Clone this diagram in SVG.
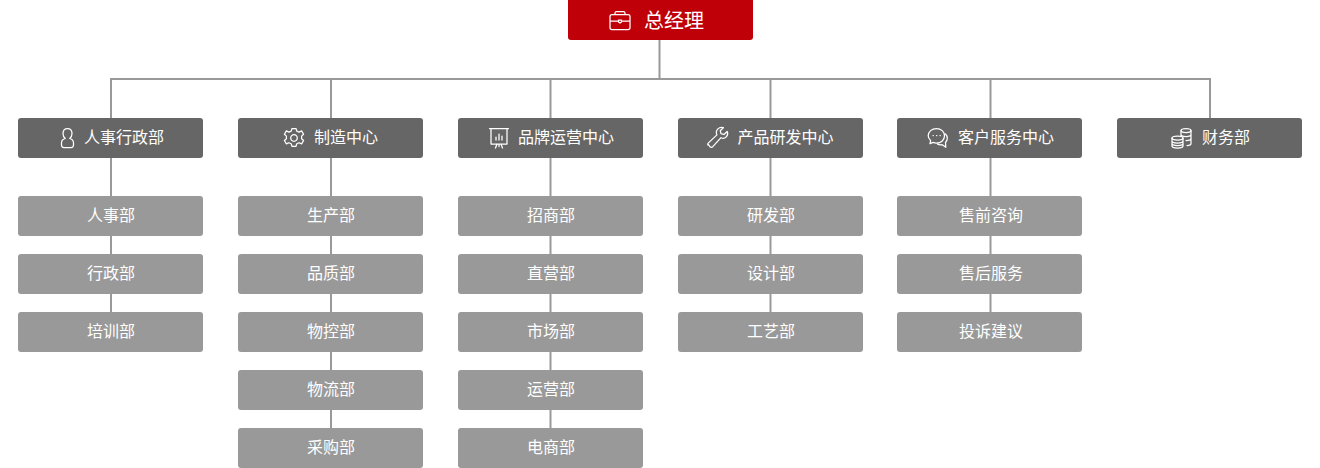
<svg xmlns="http://www.w3.org/2000/svg" width="1320" height="468" viewBox="0 0 1320 468">
<defs>
<style>
text{font-family:"Noto Sans CJK SC","Noto Sans",sans-serif;fill:#fff;font-size:16px;text-anchor:middle;dominant-baseline:auto}
.big{font-size:20px}
.top{fill:#c00008}.mid{fill:#666}.sub{fill:#999}
.c{stroke:#999;stroke-width:2;fill:none}
.i{fill:none;stroke:#fff;stroke-width:1.25;stroke-linecap:round;stroke-linejoin:round}
</style>
</defs>
<g id="connectors">
<path class="c" d="M659.500 40V79M110 79H1211M111 78V118M331 78V118M550.500 78V118M770.500 78V118M990.500 78V118M1210 78V118"/>
<path class="c" d="M111 158V196M111 236V254M111 294V312"/>
<path class="c" d="M331 158V196M331 236V254M331 294V312M331 352V370M331 410V428"/>
<path class="c" d="M550.500 158V196M550.500 236V254M550.500 294V312M550.500 352V370M550.500 410V428"/>
<path class="c" d="M770.500 158V196M770.500 236V254M770.500 294V312"/>
<path class="c" d="M990.500 158V196M990.500 236V254M990.500 294V312"/>
</g>
<g id="n-gm"><rect class="top" x="568" y="-4" width="185" height="44" rx="3"/>
<path class="i" d="M612 14.500h16a2 2 0 0 1 2 2v11a2 2 0 0 1-2 2h-16a2 2 0 0 1-2-2v-11a2 2 0 0 1 2-2zM610 21h7.500M622.500 21h7.500M615 14.500v-1.500a1.500 1.500 0 0 1 1.500-1.500h7a1.500 1.500 0 0 1 1.500 1.500v1.500M618.500 20h3v2l-1.500 1-1.500-1z"/>
<text class="big" x="674" y="28">总经理</text></g>

<g id="n-hr"><rect class="mid" x="18" y="118" width="185" height="40" rx="3"/>
<path class="i" d="M67.500 128.500c2.800 0 4.500 2.200 4.500 5 0 2.200-.9 4-2.300 5 2 .6 3.800 2 3.800 4.200v2.300c0 1.300-1 2.500-2.500 2.500h-7c-1.500 0-2.500-1.200-2.500-2.500v-2.300c0-2.200 1.800-3.600 3.800-4.200-1.400-1-2.300-2.800-2.300-5 0-2.800 1.700-5 4.500-5z"/>
<text x="124" y="143">人事行政部</text></g>
<g id="n-mfg"><rect class="mid" x="238" y="118" width="185" height="40" rx="3"/>
<g class="i" transform="translate(294 138)"><circle r="3.300"/><path d="M-2-9.500h4l.8 2.600 2.300 1 2.500-1.200 2 3.400-2 1.800v2.600l2 1.800-2 3.400-2.500-1.200-2.300 1-.8 2.600h-4l-.8-2.600-2.300-1-2.500 1.200-2-3.400 2-1.800v-2.600l-2-1.800 2-3.400 2.500 1.200 2.300-1z"/></g>
<text x="346" y="143">制造中心</text></g>
<g id="n-brand"><rect class="mid" x="458" y="118" width="185" height="40" rx="3"/>
<path class="i" d="M489.500 128.500h19M491 128.500v15.500h16v-15.500M499 144v2.500M495.500 148l1.500-4M502.500 148l-1.500-4M496 140v-3M499 140v-6M502 140v-4"/>
<text x="566" y="143">品牌运营中心</text></g>
<g id="n-rd"><rect class="mid" x="678" y="118" width="185" height="40" rx="3"/>
<path class="i" d="M708 144l2 2.700c.8.800 2 .8 2.800 0l8.200-9c2.300 1 4.300.5 5.500-1 1.200-1.500 1.500-3.500.7-5.200l-3.200 3-3-.8-.8-3 3.200-3c-2-.8-4-.3-5.500 1.200-1.500 1.500-2 3.800-1 6l-8.700 8.200c-.7.700-.7 1.300-.2 2z"/>
<text x="785.500" y="143">产品研发中心</text></g>
<g id="n-cs"><rect class="mid" x="897" y="118" width="185" height="40" rx="3"/>
<path class="i" d="M936.500 128.500c4.700 0 8 3.200 8 7.300s-3.300 7.200-8 7.200c-1.200 0-2.300-.2-3.300-.6l-3.200 1.300.6-3.200c-1.500-1.300-2.400-3-2.400-4.700 0-4.100 3.600-7.300 8.300-7.300zM945.500 134c1.300 1.200 1.800 2.800 1.800 4.300 0 1.700-.8 3.200-1.800 4.200l.3 4.800-3.900-2.700c-1.300.3-3 .2-4.300-.5M933 135.500h.3M936.500 135.500h.3M940 135.500h.3"/>
<text x="1006" y="143">客户服务中心</text></g>
<g id="n-fin"><rect class="mid" x="1117" y="118" width="185" height="40" rx="3"/>
<g class="i"><ellipse cx="1186" cy="130.500" rx="5" ry="2"/><path d="M1181 130.500v6M1191 130.500v13c0 1-1.800 2-4 2M1181 134.500c0 1 2.200 2 5 2s5-1 5-2M1191 138.500c0 1-2 2-5 2"/><ellipse cx="1177.500" cy="138" rx="5.500" ry="2"/><path d="M1172 138v8c0 1.100 2.500 2 5.500 2s5.500-.9 5.500-2v-8M1172 141c0 1.100 2.500 2 5.500 2s5.500-.9 5.500-2M1172 143.500c0 1.100 2.500 2 5.500 2s5.500-.9 5.500-2"/></g>
<text x="1226" y="143">财务部</text></g>

<g id="s-1"><rect class="sub" x="18" y="196" width="185" height="40" rx="3"/><text x="111" y="221">人事部</text></g>
<g id="s-2"><rect class="sub" x="18" y="254" width="185" height="40" rx="3"/><text x="111" y="279">行政部</text></g>
<g id="s-3"><rect class="sub" x="18" y="312" width="185" height="40" rx="3"/><text x="111" y="337">培训部</text></g>

<g id="s-4"><rect class="sub" x="238" y="196" width="185" height="40" rx="3"/><text x="331" y="221">生产部</text></g>
<g id="s-5"><rect class="sub" x="238" y="254" width="185" height="40" rx="3"/><text x="331" y="279">品质部</text></g>
<g id="s-6"><rect class="sub" x="238" y="312" width="185" height="40" rx="3"/><text x="331" y="337">物控部</text></g>
<g id="s-7"><rect class="sub" x="238" y="370" width="185" height="40" rx="3"/><text x="331" y="395">物流部</text></g>
<g id="s-8"><rect class="sub" x="238" y="428" width="185" height="40" rx="3"/><text x="331" y="453">采购部</text></g>

<g id="s-9"><rect class="sub" x="458" y="196" width="185" height="40" rx="3"/><text x="551" y="221">招商部</text></g>
<g id="s-10"><rect class="sub" x="458" y="254" width="185" height="40" rx="3"/><text x="551" y="279">直营部</text></g>
<g id="s-11"><rect class="sub" x="458" y="312" width="185" height="40" rx="3"/><text x="551" y="337">市场部</text></g>
<g id="s-12"><rect class="sub" x="458" y="370" width="185" height="40" rx="3"/><text x="551" y="395">运营部</text></g>
<g id="s-13"><rect class="sub" x="458" y="428" width="185" height="40" rx="3"/><text x="551" y="453">电商部</text></g>

<g id="s-14"><rect class="sub" x="678" y="196" width="185" height="40" rx="3"/><text x="771" y="221">研发部</text></g>
<g id="s-15"><rect class="sub" x="678" y="254" width="185" height="40" rx="3"/><text x="771" y="279">设计部</text></g>
<g id="s-16"><rect class="sub" x="678" y="312" width="185" height="40" rx="3"/><text x="771" y="337">工艺部</text></g>

<g id="s-17"><rect class="sub" x="897" y="196" width="185" height="40" rx="3"/><text x="991" y="221">售前咨询</text></g>
<g id="s-18"><rect class="sub" x="897" y="254" width="185" height="40" rx="3"/><text x="991" y="279">售后服务</text></g>
<g id="s-19"><rect class="sub" x="897" y="312" width="185" height="40" rx="3"/><text x="991" y="337">投诉建议</text></g>
</svg>
